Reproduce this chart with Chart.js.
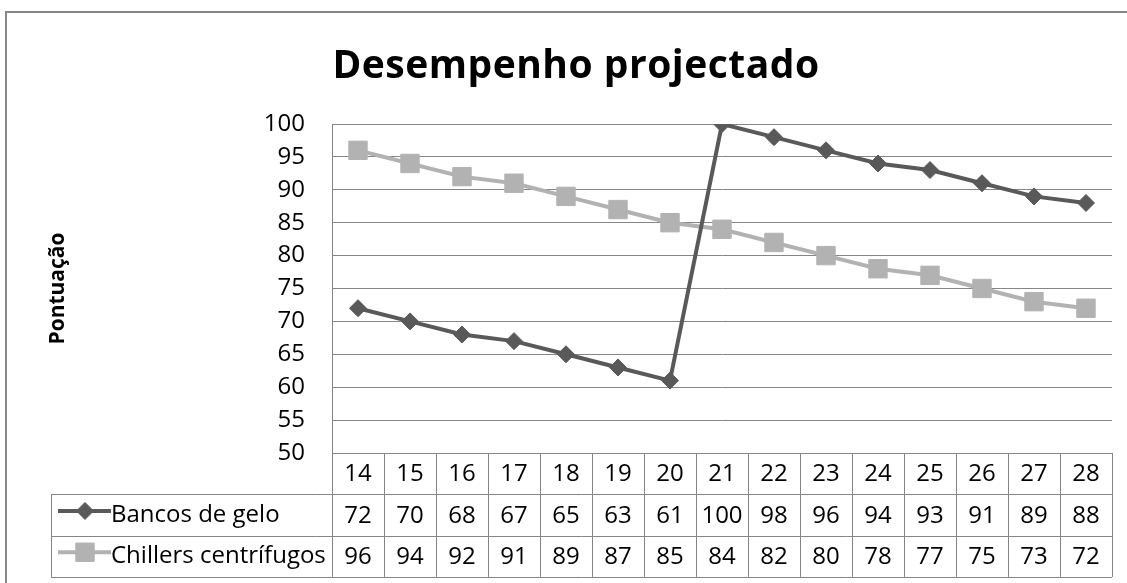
<!DOCTYPE html>
<html>
<head>
<meta charset="utf-8">
<title>Desempenho projectado</title>
<script src="https://cdn.jsdelivr.net/npm/chart.js@4/dist/chart.umd.min.js"></script>
<style>
  html, body { margin: 0; padding: 0; background: #ffffff; }
  canvas { display: block; }
</style>
</head>
<body>
<canvas id="chart" width="1127" height="583"></canvas>
<script>
// Categories shown along the bottom of the plot / header row of the data table
const categories = ['14', '15', '16', '17', '18', '19', '20', '21', '22', '23', '24', '25', '26', '27', '28'];

// Series values
const bancosDeGelo = [72, 70, 68, 67, 65, 63, 61, 100, 98, 96, 94, 93, 91, 89, 88];
const chillersCentrifugos = [96, 94, 92, 91, 89, 87, 85, 84, 82, 80, 78, 77, 75, 73, 72];

// Series names
const seriesNames = ['Bancos de gelo', 'Chillers centrífugos'];

// Chart title
const chartTitle = 'Desempenho projectado';

// Value axis range
const yMin = 50;
const yMax = 100;
const yStep = 5;

const FONT = '"Open Sans", "Noto Sans", sans-serif';
const TEXT_SIZE = 24;
const GRID = '#868686';
const DARK = '#595959';
const LIGHT = '#b2b2b2';

// Frame, title and the data table under the plot
const dataTablePlugin = {
  id: 'dataTable',
  beforeDraw(chart) {
    const ctx = chart.ctx;
    ctx.save();
    ctx.fillStyle = '#ffffff';
    ctx.fillRect(0, 0, chart.width, chart.height);
    ctx.strokeStyle = '#878787';
    ctx.lineWidth = 2;
    ctx.strokeRect(6, 12, chart.width + 40, chart.height + 40);

    // title
    ctx.fillStyle = '#000000';
    ctx.font = 'bold 39px ' + FONT;
    ctx.textAlign = 'center';
    ctx.textBaseline = 'alphabetic';
    if ('letterSpacing' in ctx) ctx.letterSpacing = '0.5px';
    ctx.fillText(chartTitle, 576, 78);
    ctx.restore();
  },
  afterDraw(chart) {
    const ctx = chart.ctx;
    const area = chart.chartArea;
    const xs = chart.scales.x;
    const colW = xs.getPixelForValue(1) - xs.getPixelForValue(0);
    const rowH = 41.3;
    const top = area.bottom;
    const legendLeft = 51;
    const px = v => Math.round(v) + 0.5;

    ctx.save();
    ctx.strokeStyle = GRID;
    ctx.lineWidth = 1;
    ctx.beginPath();
    // horizontal rules
    ctx.moveTo(area.left, px(top));
    ctx.lineTo(area.right, px(top));
    for (let r = 1; r <= 3; r++) {
      const y = px(top + r * rowH);
      ctx.moveTo(legendLeft, y);
      ctx.lineTo(area.right, y);
    }
    // vertical rules
    for (let i = 0; i <= categories.length; i++) {
      const x = px(area.left + i * colW);
      ctx.moveTo(x, top);
      ctx.lineTo(x, top + 3 * rowH);
    }
    ctx.moveTo(px(legendLeft), top + rowH);
    ctx.lineTo(px(legendLeft), top + 3 * rowH);
    ctx.stroke();

    // cell texts
    ctx.fillStyle = '#000000';
    ctx.font = TEXT_SIZE + 'px ' + FONT;
    ctx.textAlign = 'center';
    ctx.textBaseline = 'middle';
    const rows = [categories, bancosDeGelo, chillersCentrifugos];
    rows.forEach((row, r) => {
      const cy = top + r * rowH + rowH / 2 + 1;
      row.forEach((v, i) => {
        ctx.fillText(String(v), xs.getPixelForValue(i), cy);
      });
    });

    // legend keys
    const keys = [
      { color: DARK, style: 'rectRot', radius: 8.5 },
      { color: LIGHT, style: 'rect', radius: 13 }
    ];
    keys.forEach((k, i) => {
      const cy = top + (i + 1) * rowH + rowH / 2;
      const my = cy - 4;
      ctx.strokeStyle = k.color;
      ctx.lineWidth = 4;
      ctx.beginPath();
      ctx.moveTo(58, my);
      ctx.lineTo(111, my);
      ctx.stroke();
      ctx.fillStyle = k.color;
      ctx.lineWidth = 1;
      Chart.helpers.drawPoint(ctx, { pointStyle: k.style, radius: k.radius, rotation: 0, borderWidth: 1 }, 85, my);
      ctx.fillStyle = '#000000';
      ctx.textAlign = 'left';
      ctx.fillText(seriesNames[i], 111, cy);
    });
    ctx.restore();
  }
};

new Chart(document.getElementById('chart'), {
  type: 'line',
  data: {
    labels: categories,
    datasets: [
      {
        label: seriesNames[0],
        data: bancosDeGelo,
        borderColor: DARK,
        backgroundColor: DARK,
        borderWidth: 4,
        pointStyle: 'rectRot',
        pointRadius: 8.5,
        pointBorderWidth: 1,
        pointBackgroundColor: DARK,
        pointBorderColor: DARK,
        tension: 0
      },
      {
        label: seriesNames[1],
        data: chillersCentrifugos,
        borderColor: LIGHT,
        backgroundColor: LIGHT,
        borderWidth: 4,
        pointStyle: 'rect',
        pointRadius: 13,
        pointBorderWidth: 1,
        pointBackgroundColor: LIGHT,
        pointBorderColor: LIGHT,
        tension: 0
      }
    ]
  },
  options: {
    responsive: false,
    animation: false,
    devicePixelRatio: 1,
    layout: { padding: { left: 38, right: 15, top: 124, bottom: 130 } },
    plugins: {
      legend: { display: false },
      tooltip: { enabled: false },
      title: { display: false }
    },
    scales: {
      x: {
        type: 'category',
        offset: true,
        display: false
      },
      y: {
        min: yMin,
        max: yMax,
        afterFit(scale) { scale.width = 294; },
        ticks: {
          stepSize: yStep,
          padding: 27,
          color: '#000000',
          font: { family: FONT, size: TEXT_SIZE }
        },
        grid: { color: GRID, lineWidth: 1, drawTicks: false },
        border: { display: true, color: GRID, width: 1 },
        title: {
          display: true,
          text: 'Pontuação',
          color: '#000000',
          font: { family: FONT, size: 21, weight: 'bold' },
          padding: { top: 7, bottom: 0 }
        }
      }
    }
  },
  plugins: [dataTablePlugin]
});
</script>
</body>
</html>
